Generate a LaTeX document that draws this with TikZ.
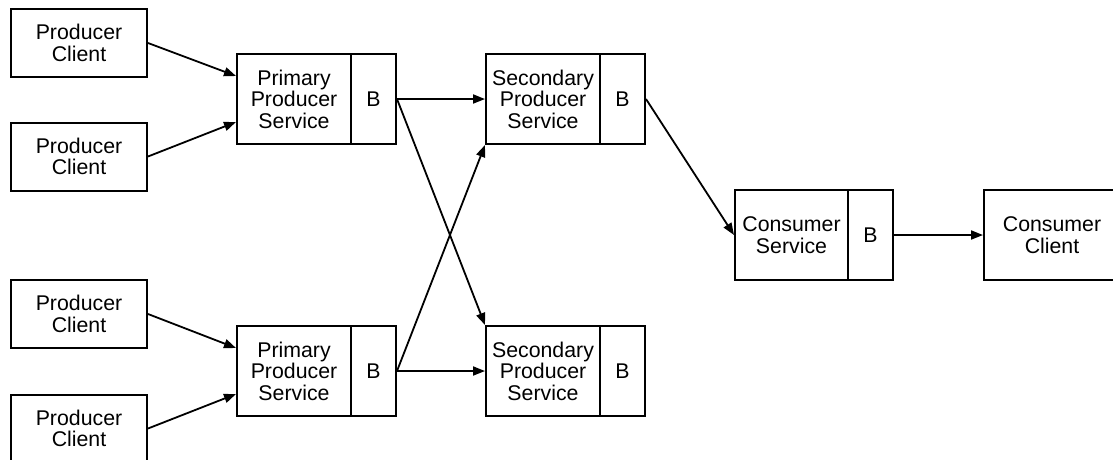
\documentclass[tikz,border=0pt]{standalone}
\usepackage{fontspec}
\setmainfont{Liberation Sans}
\usetikzlibrary{arrows.meta,calc}
\begin{document}
\begin{tikzpicture}[x=1pt,y=-1pt,
  box/.style={draw,line width=2pt,inner sep=0pt,align=center,font=\fontsize{21.3}{21.5}\selectfont},
  client/.style={box,minimum width=136pt,minimum height=68pt},
  mainpart/.style={box,minimum width=114pt,minimum height=90pt},
  bufpart/.style={box,minimum width=45pt,minimum height=90pt},
  arr/.style={line width=1.8pt,-{Triangle[length=12pt,width=9pt]}}]
\clip (0,0) rectangle (1113,459);
% producer clients
\node[client] (pc1) at (79,43) {Producer\\Client};
\node[client] (pc2) at (79,156.5) {Producer\\Client};
\node[client] (pc3) at (79,314) {Producer\\Client};
\node[client] (pc4) at (79,428.5) {Producer\\Client};
% primary services
\node[mainpart] (p1) at (294,99) {Primary\\Producer\\Service};
\node[bufpart] (p1b) at (373.5,99) {B};
\node[mainpart] (p2) at (294,371) {Primary\\Producer\\Service};
\node[bufpart] (p2b) at (373.5,371) {B};
% secondary services
\node[mainpart] (s1) at (543,99) {Secondary\\Producer\\Service};
\node[bufpart] (s1b) at (622.5,99) {B};
\node[mainpart] (s2) at (543,371) {Secondary\\Producer\\Service};
\node[bufpart] (s2b) at (622.5,371) {B};
% consumer
\node[mainpart,minimum width=113pt] (cs) at (791.5,235) {Consumer\\Service};
\node[bufpart] (csb) at (870.5,235) {B};
\node[client,minimum height=90pt] (cc) at (1052,235) {Consumer\\Client};
% connectors
\draw[arr] (pc1.east) -- ($(p1.north west)!0.25!(p1.south west)$);
\draw[arr] (pc2.east) -- ($(p1.north west)!0.75!(p1.south west)$);
\draw[arr] (pc3.east) -- ($(p2.north west)!0.25!(p2.south west)$);
\draw[arr] (pc4.east) -- ($(p2.north west)!0.75!(p2.south west)$);
\draw[arr] (p1b.east) -- (s1.west);
\draw[arr] (p1b.east) -- (s2.north west);
\draw[arr] (p2b.east) -- (s2.west);
\draw[arr] (p2b.east) -- (s1.south west);
\draw[arr] (s1b.east) -- (cs.west);
\draw[arr] (csb.east) -- (cc.west);
\end{tikzpicture}
\end{document}
